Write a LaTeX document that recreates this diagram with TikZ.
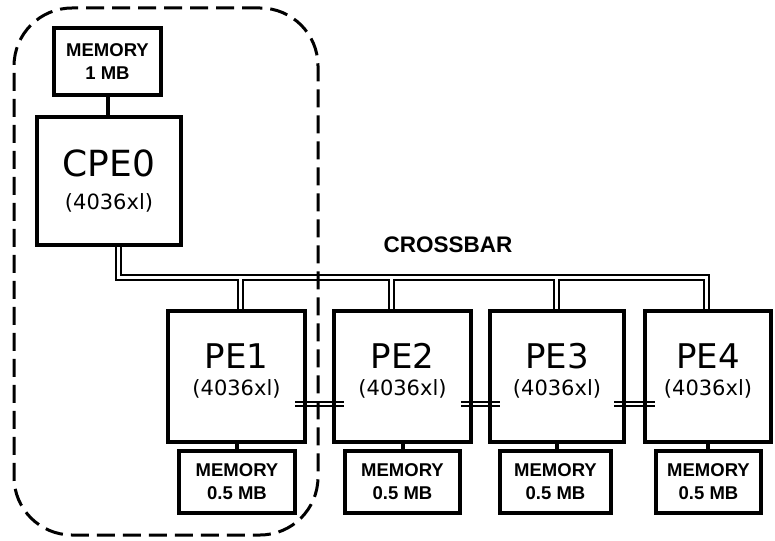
\documentclass[tikz,border=0pt]{standalone}
\usepackage{fontspec}
\setmainfont{DejaVu Sans}
\newfontfamily\capsfont{Liberation Sans}
\usetikzlibrary{backgrounds}

\begin{document}
\begin{tikzpicture}[x=1pt,y=-1pt,every node/.style={inner sep=0pt,align=center},
  pebox/.style={draw,line width=4pt,minimum width=137pt,minimum height=131pt,text depth=14pt,font=\fontsize{21}{24}\selectfont},
  membox/.style={draw,line width=4pt,minimum height=62pt,font=\capsfont\bfseries\fontsize{18.5}{23}\selectfont},
  bus/.style={line width=2pt,double=white,double distance=3pt},
  link/.style={line width=1.6pt,double=white,double distance=2pt},
  wire/.style={line width=4pt}]
  \useasboundingbox (0,0) rectangle (775,540);

  \node[membox,minimum width=107pt,minimum height=67pt] (mem0) at (107.5,61.5) {MEMORY\\1 MB};
  \node[pebox,minimum width=144pt,minimum height=128pt,text depth=3pt] (cpe) at (109,181) {{\fontsize{36}{36}\selectfont CPE0}\\[9pt](4036xl)};
  \node[pebox] (pe1) at (236.5,376.5) {{\fontsize{34}{34}\selectfont PE1}\\[3pt](4036xl)};
  \node[pebox] (pe2) at (402.5,376.5) {{\fontsize{34}{34}\selectfont PE2}\\[3pt](4036xl)};
  \node[pebox,minimum width=134pt] (pe3) at (557,376.5) {{\fontsize{34}{34}\selectfont PE3}\\[3pt](4036xl)};
  \node[pebox,minimum width=126pt] (pe4) at (708,376.5) {{\fontsize{34}{34}\selectfont PE4}\\[3pt](4036xl)};
  \node[membox,minimum width=116pt] (mem1) at (237,482) {MEMORY\\0.5 MB};
  \node[membox,minimum width=115pt] (mem2) at (402.5,482) {MEMORY\\0.5 MB};
  \node[membox,minimum width=111pt] (mem3) at (555.5,482) {MEMORY\\0.5 MB};
  \node[membox,minimum width=105pt] (mem4) at (708.5,482) {MEMORY\\0.5 MB};
  \node[font=\capsfont\bfseries\fontsize{22.5}{24}\selectfont] (xbar) at (448,245) {CROSSBAR};
  \coordinate (bus) at (0,277);

  % memory ports
  \draw[wire] (mem0.south) -- (mem0.south |- cpe.north);
  \foreach \i in {1,...,4}
    \draw[wire] (pe\i.south) -- (pe\i.south |- mem\i.north);

  \begin{scope}[on background layer]
    % crossbar
    \draw[bus] ([xshift=9pt]cpe.south) |- ([xshift=-2pt]pe4.north |- bus) -- ([xshift=-2pt]pe4.north)
      ([xshift=3.5pt]pe1.north |- bus) -- ([xshift=3.5pt]pe1.north)
      ([xshift=-11.5pt]pe2.north |- bus) -- ([xshift=-11.5pt]pe2.north)
      ([xshift=-1pt]pe3.north |- bus) -- ([xshift=-1pt]pe3.north);
    % neighbour links
    \foreach \a/\b in {pe1/pe2,pe2/pe3,pe3/pe4}
      \draw[link] ([shift={(-12,27.5)}]\a.east) -- ([shift={(12,27.5)}]\b.west);
  \end{scope}

  \node[draw,dash pattern=on 18pt off 8pt,line width=3pt,rounded corners=58pt,minimum width=304pt,minimum height=527pt] (grp) at (166,271.5) {};
\end{tikzpicture}
\end{document}
